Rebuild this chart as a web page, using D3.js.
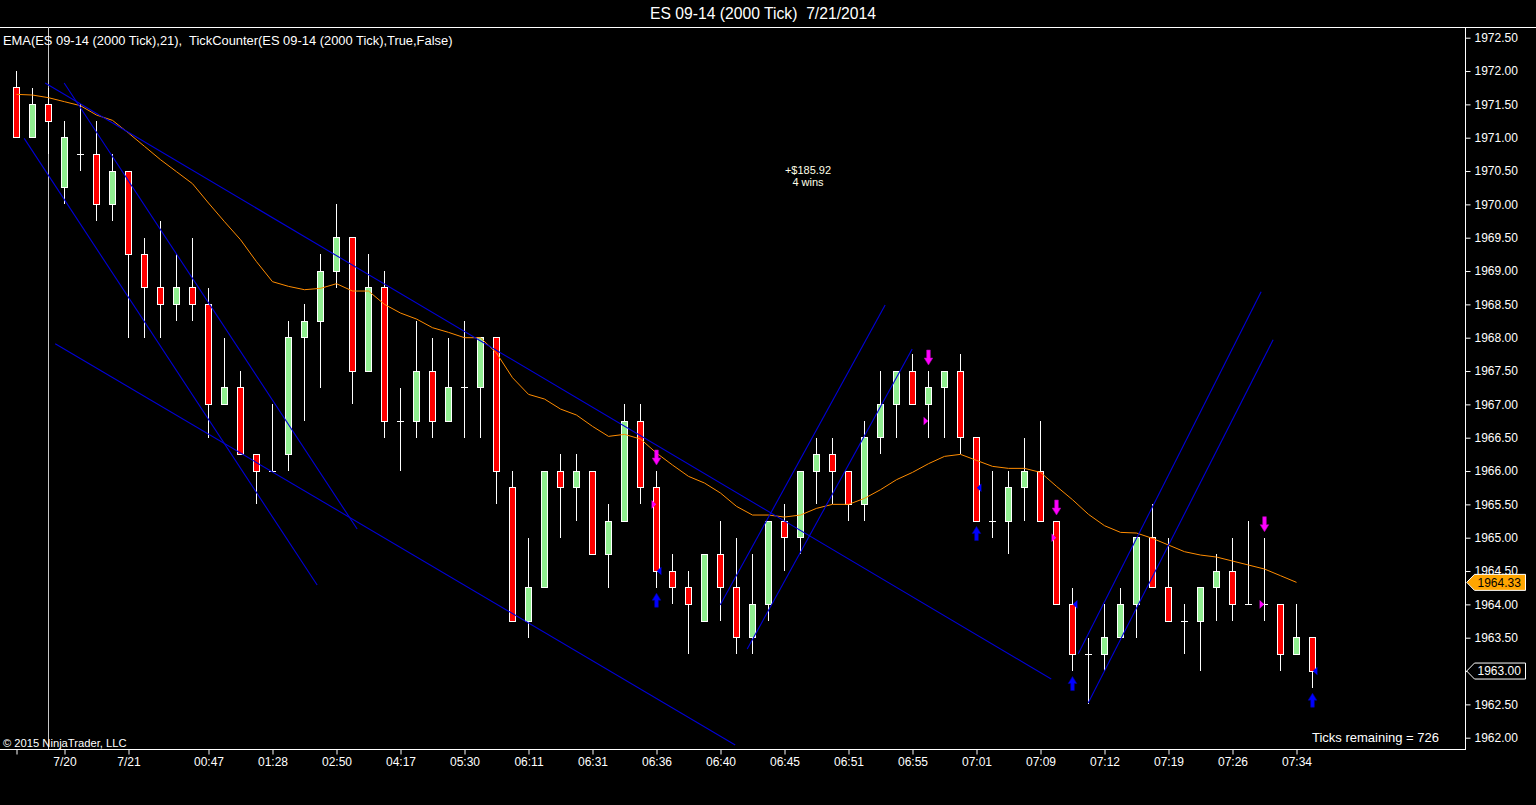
<!DOCTYPE html>
<html><head><meta charset="utf-8">
<script src="https://cdn.jsdelivr.net/npm/d3@7"></script>
<style>
html,body{margin:0;padding:0;background:#000;overflow:hidden}
svg{display:block;font-family:"Liberation Sans",Arial,sans-serif}
text{white-space:pre}
</style></head><body>
<svg id="c" width="1536" height="805"></svg>
<script>
// ---------- DATA ----------
const openP = [1971.75,1971.0,1971.5,1970.25,1970.75,1970.75,1970.0,1970.5,1969.25,1968.75,
1968.5,1968.75,1968.5,1967.0,1967.25,1966.25,1966.0,1966.25,1968.0,1968.25,
1969.0,1969.5,1967.5,1968.75,1966.75,1966.75,1967.5,1966.75,1967.25,1967.25,
1968.0,1965.75,1963.75,1964.25,1966.0,1965.75,1966.0,1964.75,1965.25,1966.75,
1965.75,1964.5,1964.25,1963.75,1964.75,1964.25,1963.5,1964.0,1965.25,1965.0,
1966.0,1966.25,1966.0,1965.5,1966.5,1967.0,1967.5,1967.0,1967.25,1967.5,
1966.5,1965.25,1965.25,1965.75,1966.0,1965.25,1964.0,1963.25,1963.25,1963.5,
1964.0,1965.0,1964.25,1963.75,1963.75,1964.25,1964.5,1964.0,1964.0,1964.0,
1963.25,1963.5];
const highP = [1972.0,1971.75,1971.75,1971.25,1971.5,1971.25,1970.75,1970.5,1969.5,1969.75,
1969.25,1969.5,1968.75,1968.0,1967.5,1966.25,1967.0,1968.25,1968.5,1969.25,
1970.0,1969.5,1969.25,1969.0,1967.25,1968.25,1968.0,1968.0,1968.25,1968.0,
1968.0,1966.0,1965.0,1966.0,1966.25,1966.25,1966.0,1965.5,1967.0,1967.0,
1966.0,1964.75,1964.5,1964.75,1965.25,1965.0,1964.75,1965.25,1965.5,1966.0,
1966.5,1966.5,1966.0,1966.75,1967.5,1967.5,1967.75,1967.5,1967.5,1967.75,
1966.5,1966.0,1966.0,1966.5,1966.75,1965.25,1964.25,1963.5,1964.0,1964.25,
1965.0,1965.5,1965.0,1964.0,1964.25,1964.75,1965.0,1965.25,1965.0,1964.0,
1964.0,1963.5];
const lowP = [1971.0,1971.0,1970.75,1970.0,1970.5,1969.75,1969.75,1968.0,1968.0,1968.0,
1968.25,1968.25,1966.5,1967.0,1966.25,1965.5,1966.0,1966.0,1966.75,1967.25,
1968.75,1967.0,1967.5,1966.5,1966.0,1966.5,1966.5,1966.75,1966.5,1966.5,
1965.5,1963.75,1963.5,1964.25,1965.0,1965.25,1964.75,1964.25,1965.25,1965.5,
1964.25,1964.0,1963.25,1963.75,1963.75,1963.25,1963.25,1963.75,1964.5,1964.75,
1965.5,1965.5,1965.25,1965.25,1966.25,1966.5,1967.0,1966.5,1966.5,1966.25,
1965.25,1965.0,1964.75,1965.25,1965.25,1964.0,1963.0,1962.5,1963.0,1963.5,
1963.5,1964.25,1963.75,1963.25,1963.0,1963.75,1963.75,1964.0,1963.75,1963.0,
1963.25,1962.75];
const closeP = [1971.0,1971.5,1971.25,1971.0,1970.75,1970.0,1970.5,1969.25,1968.75,1968.5,
1968.75,1968.5,1967.0,1967.25,1966.25,1966.0,1966.0,1968.0,1968.25,1969.0,
1969.5,1967.5,1968.75,1966.75,1966.75,1967.5,1966.75,1967.25,1967.25,1968.0,
1966.0,1963.75,1964.25,1966.0,1965.75,1966.0,1964.75,1965.25,1966.75,1965.75,
1964.5,1964.25,1964.0,1964.75,1964.25,1963.5,1964.0,1965.25,1965.0,1966.0,
1966.25,1966.0,1965.5,1966.5,1967.0,1967.5,1967.0,1967.25,1967.5,1966.5,
1965.25,1965.25,1965.75,1966.0,1965.25,1964.0,1963.25,1963.25,1963.5,1964.0,
1965.0,1964.25,1963.75,1963.75,1964.25,1964.5,1964.0,1964.0,1964.0,1963.25,
1963.5,1963.0];
// EMA(21) values (bars 0..80)
const emaP = [1971.65,1971.64,1971.60,1971.54,1971.48,1971.34,1971.26,1971.07,1970.87,1970.67,
1970.49,1970.31,1970.02,1969.74,1969.47,1969.14,1968.84,1968.77,1968.72,1968.74,
1968.81,1968.70,1968.70,1968.50,1968.37,1968.28,1968.15,1968.08,1968.00,1968.00,
1967.77,1967.40,1967.15,1967.08,1966.93,1966.84,1966.67,1966.52,1966.55,1966.48,
1966.27,1966.09,1965.92,1965.82,1965.67,1965.47,1965.34,1965.34,1965.31,1965.34,
1965.44,1965.50,1965.50,1965.59,1965.72,1965.87,1965.98,1966.11,1966.22,1966.25,
1966.16,1966.07,1966.04,1966.04,1965.98,1965.77,1965.57,1965.35,1965.18,1965.08,
1965.07,1964.99,1964.89,1964.79,1964.74,1964.71,1964.65,1964.59,1964.53,1964.43,
1964.33];
const xTickIdx = [0,3,7,12,16,20,24,28,32,36,40,44,48,52,56,60,64,68,72,76,80];
const xTickLabels = ["","7/20","7/21","00:47","01:28","02:50","04:17","05:30","06:11","06:31","06:36",
"06:40","06:45","06:51","06:55","07:01","07:09","07:12","07:19","07:26","07:34"];
const yTicks = [1962.0,1962.5,1963.0,1963.5,1964.0,1964.5,1965.0,1965.5,1966.0,1966.5,1967.0,
1967.5,1968.0,1968.5,1969.0,1969.5,1970.0,1970.5,1971.0,1971.5,1972.0,1972.5];
// trend lines: [barIndex1, price1, barIndex2, price2]
const trendLines = [
  [2.98,1971.82,21.29,1965.13],
  [1.79,1971.82,64.67,1962.88],
  [0.48,1970.99,18.79,1964.29],
  [2.42,1967.91,44.92,1961.89],
  [43.98,1963.99,54.29,1968.49],
  [45.67,1963.33,55.98,1967.83],
  [66.36,1963.26,77.79,1968.69],
  [66.98,1962.52,78.54,1967.97]
];
const sellSignalIdx = [40,57,65,78];
const coverSignalIdx = [40,60,66,81];
const entryIdx = [40,57,65,78];
const entryPrice = [1965.5,1966.75,1965.0,1964.0];
const exitIdx = [40,60,66,81];
const exitPrice = [1964.5,1965.75,1964.0,1963.0];
const sessionBreakIdx = 2;
const titleText = "ES 09-14 (2000 Tick)  7/21/2014";
const legendText = "EMA(ES 09-14 (2000 Tick),21),  TickCounter(ES 09-14 (2000 Tick),True,False)";
const pnlText = ["+$185.92","4 wins"];
const ticksText = "Ticks remaining = 726";
const copyText = "\u00A9 2015 NinjaTrader, LLC";

// ---------- DRAW ----------
const W=1536,H=805, plotRight=1465, plotTop=27, plotBottom=749;
const x = d3.scaleLinear().domain([0,81]).range([16.5,1312.5]);
const y = d3.scaleLinear().domain([1962,1972.5]).range([737.7,37.7]);
const svg = d3.select('#c');
svg.append('rect').attr('width',W).attr('height',H).attr('fill','#000');

svg.append('defs').append('clipPath').attr('id','pc')
  .append('rect').attr('x',0).attr('y',plotTop).attr('width',plotRight).attr('height',plotBottom-plotTop);

// title
svg.append('text').attr('x',763).attr('y',18.5).attr('text-anchor','middle')
  .attr('fill','#fff').attr('font-size','15.7px').text(titleText);
// frame lines
svg.append('line').attr('x1',0).attr('x2',W).attr('y1',27.5).attr('y2',27.5).attr('stroke','#fff');
svg.append('line').attr('x1',plotRight+0.5).attr('x2',plotRight+0.5).attr('y1',27).attr('y2',plotBottom+0.5).attr('stroke','#fff');
svg.append('line').attr('x1',0).attr('x2',plotRight+1).attr('y1',plotBottom+0.5).attr('y2',plotBottom+0.5).attr('stroke','#fff');

const plot = svg.append('g').attr('clip-path','url(#pc)');

// session break
plot.append('line').attr('x1',x(sessionBreakIdx)).attr('x2',x(sessionBreakIdx))
  .attr('y1',plotTop).attr('y2',plotBottom).attr('stroke','#c8c8c8');

// candles
const bars = openP.map((o,i)=>({i,o,h:highP[i],l:lowP[i],c:closeP[i]}));
const cg = plot.append('g').attr('shape-rendering','crispEdges');
cg.selectAll('line.wick').data(bars).join('line').attr('class','wick')
  .attr('x1',d=>x(d.i)).attr('x2',d=>x(d.i)).attr('y1',d=>y(d.h)).attr('y2',d=>y(d.l))
  .attr('stroke','#fff');
cg.selectAll('rect.body').data(bars.filter(d=>d.o!==d.c)).join('rect').attr('class','body')
  .attr('x',d=>x(d.i)-3).attr('width',6)
  .attr('y',d=>y(Math.max(d.o,d.c))).attr('height',d=>y(Math.min(d.o,d.c))-y(Math.max(d.o,d.c)))
  .attr('fill',d=>d.c>d.o?'#90ee90':'#ff0000').attr('stroke','#fff').attr('stroke-width',1);
cg.selectAll('line.doji').data(bars.filter(d=>d.o===d.c)).join('line').attr('class','doji')
  .attr('x1',d=>x(d.i)-3.5).attr('x2',d=>x(d.i)+3.5).attr('y1',d=>y(d.c)).attr('y2',d=>y(d.c))
  .attr('stroke','#fff');

// EMA
plot.append('path').datum(emaP)
  .attr('d',d3.line().x((d,i)=>x(i)).y(d=>y(d)))
  .attr('fill','none').attr('stroke','#ff8c00').attr('stroke-width',1);

// trend lines
plot.selectAll('line.tl').data(trendLines).join('line').attr('class','tl')
  .attr('x1',d=>x(d[0])).attr('y1',d=>y(d[1])).attr('x2',d=>x(d[2])).attr('y2',d=>y(d[3]))
  .attr('stroke','#0000d8').attr('stroke-width',1.1);

// signal arrows
function downArrow(cx,tip){
  return `M${cx-1.8},${tip-15}L${cx+1.8},${tip-15}L${cx+1.8},${tip-7}L${cx+4.3},${tip-7}L${cx},${tip}L${cx-4.3},${tip-7}L${cx-1.8},${tip-7}Z`;
}
function upArrow(cx,tip){
  return `M${cx-1.8},${tip+14}L${cx+1.8},${tip+14}L${cx+1.8},${tip+7}L${cx+4.3},${tip+7}L${cx},${tip}L${cx-4.3},${tip+7}L${cx-1.8},${tip+7}Z`;
}
plot.selectAll('path.sell').data(sellSignalIdx).join('path').attr('class','sell')
  .attr('d',i=>downArrow(x(i),y(highP[i])-6)).attr('fill','#ff00ff').attr('stroke','#b000b0').attr('stroke-width',0.6);
plot.selectAll('path.cover').data(coverSignalIdx).join('path').attr('class','cover')
  .attr('d',i=>upArrow(x(i),y(lowP[i])+5.5)).attr('fill','#0000ff').attr('stroke','#0000a0').attr('stroke-width',0.6);
// entry / exit markers
plot.selectAll('path.entry').data(entryIdx).join('path').attr('class','entry')
  .attr('d',(i,k)=>{const cx=x(i)-0.3, cy=y(entryPrice[k]); return `M${cx},${cy}L${cx-4.6},${cy-4.3}L${cx-4.6},${cy+4.3}Z`;})
  .attr('fill','#ff00ff');
plot.selectAll('path.exit').data(exitIdx).join('path').attr('class','exit')
  .attr('d',(i,k)=>{const cx=x(i)+0.3, cy=y(exitPrice[k]); return `M${cx},${cy}L${cx+4.6},${cy-4.3}L${cx+4.6},${cy+4.3}Z`;})
  .attr('fill','#0000ff');

// texts in plot
svg.append('text').attr('x',3).attr('y',45).attr('fill','#fff').attr('font-size','12.9px').text(legendText);
svg.append('text').attr('x',808).attr('y',174.3).attr('text-anchor','middle').attr('fill','#ffffe8').attr('font-size','11px').text(pnlText[0]);
svg.append('text').attr('x',808).attr('y',185.7).attr('text-anchor','middle').attr('fill','#ffffe8').attr('font-size','11px').text(pnlText[1]);
svg.append('text').attr('x',1439).attr('y',741.5).attr('text-anchor','end').attr('fill','#fff').attr('font-size','13px').text(ticksText);
svg.append('text').attr('x',3).attr('y',746.5).attr('fill','#fff').attr('font-size','11.2px').text(copyText);

// x axis
const xa = svg.append('g').attr('transform',`translate(0,${plotBottom+0.5})`)
  .call(d3.axisBottom(x).tickValues(xTickIdx).tickFormat((d,k)=>xTickLabels[k]).tickSize(5).tickPadding(3));
xa.select('.domain').remove();
xa.selectAll('line').attr('stroke','#fff');
xa.selectAll('text').attr('fill','#fff').attr('font-size','12px').attr('font-family','"Liberation Sans",Arial,sans-serif');

// y axis
const ya = svg.append('g').attr('transform',`translate(${plotRight+0.5},0)`)
  .call(d3.axisRight(y).tickValues(yTicks).tickFormat(d3.format('.2f')).tickSize(5).tickPadding(4));
ya.select('.domain').remove();
ya.selectAll('line').attr('stroke','#fff');
ya.selectAll('text').attr('fill','#fff').attr('font-size','12px').attr('font-family','"Liberation Sans",Arial,sans-serif');

// price markers on the axis
function marker(price,label,fill,stroke,textFill){
  const cy=y(price), g=svg.append('g');
  g.append('path').attr('d',`M1466.7,${cy}L1474.5,${cy-8}L1525.5,${cy-8}L1525.5,${cy+8}L1474.5,${cy+8}Z`)
    .attr('fill',fill).attr('stroke',stroke).attr('stroke-width',1);
  g.append('text').attr('x',1477.5).attr('y',cy+4.3).attr('fill',textFill).attr('font-size','12px').text(label);
}
const lastEma = emaP[emaP.length-1], lastClose = closeP[closeP.length-1];
marker(lastEma, lastEma.toFixed(2), '#ffa500', '#ffffff', '#000');
marker(lastClose, lastClose.toFixed(2), '#000', '#ffffff', '#fff');
</script>
</body></html>
